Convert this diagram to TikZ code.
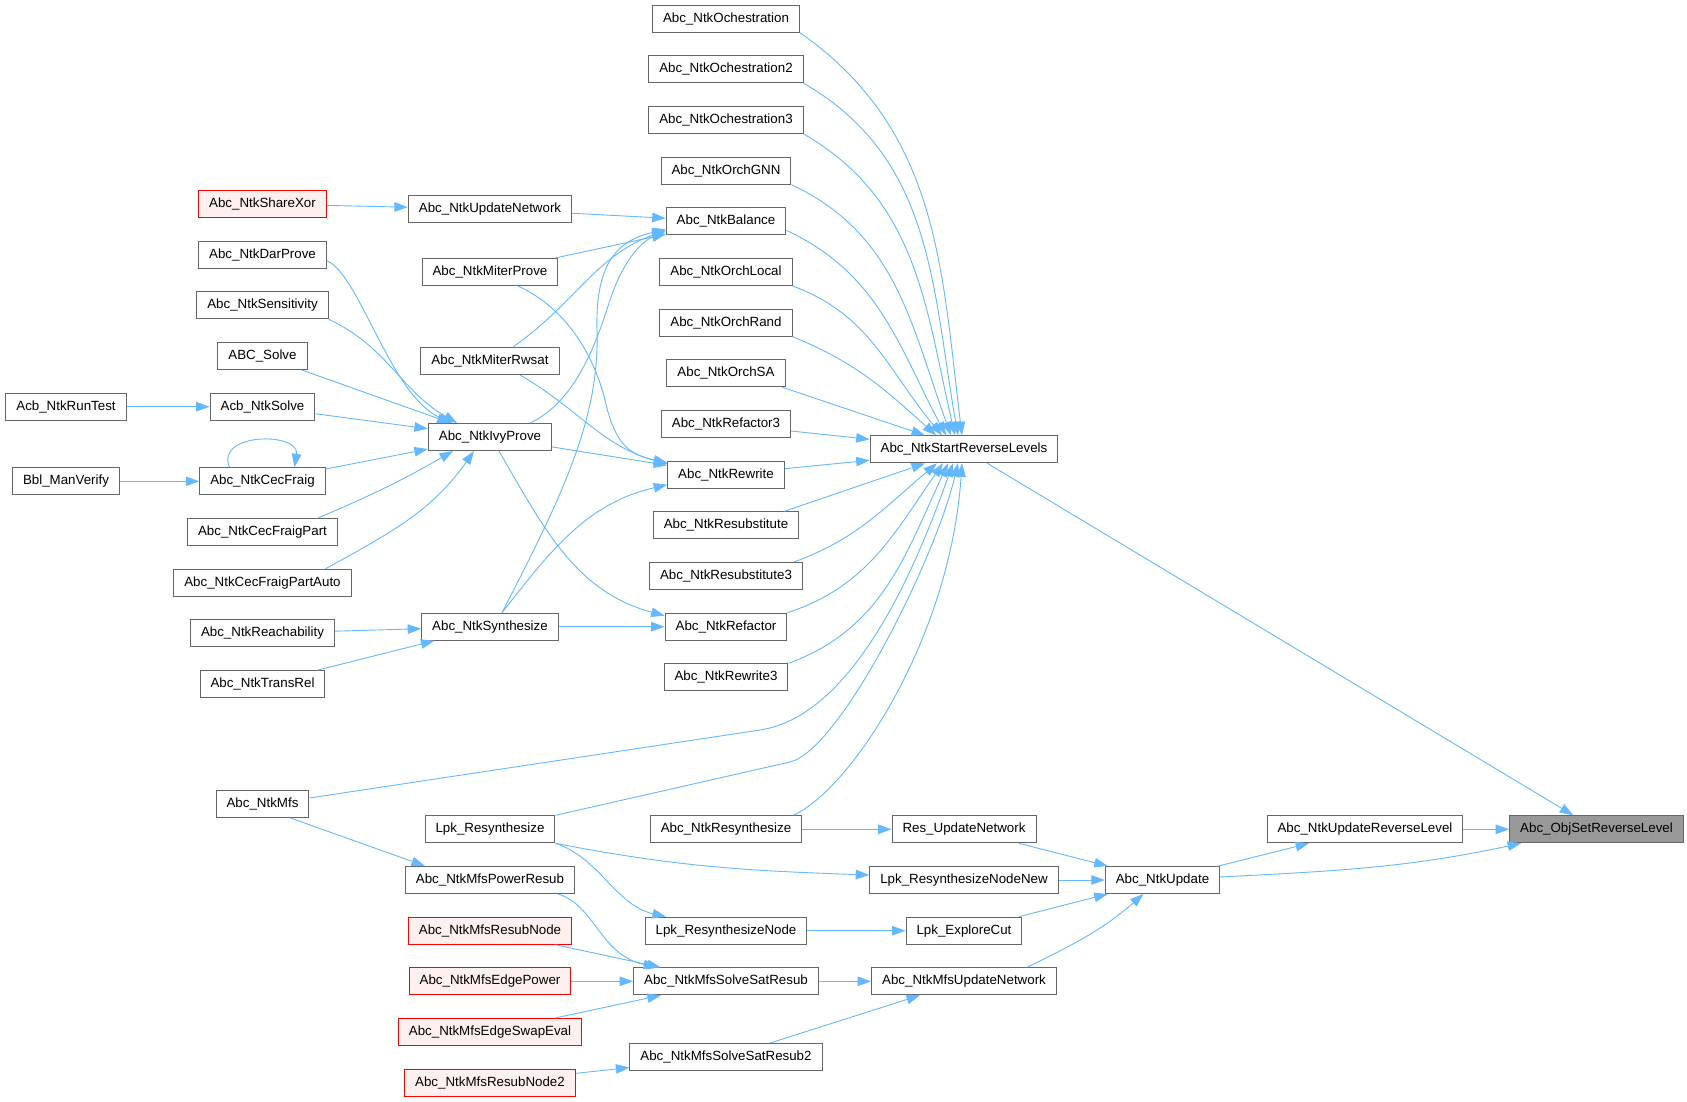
\documentclass[tikz,border=0pt]{standalone}
\usepackage{fontspec}
\setmainfont{Liberation Sans}
\usetikzlibrary{arrows.meta}
\definecolor{edgeblue}{HTML}{63B8FF}
\definecolor{nodegray}{HTML}{666666}
\definecolor{rootfill}{HTML}{999999}
\definecolor{redfill}{HTML}{FFF0F0}
\tikzset{
  fn/.style={draw=nodegray, fill=white, line width=1pt, minimum height=27pt,
    inner xsep=10.5pt, inner ysep=0pt, text height=9.8pt, text depth=2.9pt,
    font=\fontsize{13.33}{16}\selectfont},
  fnred/.style={fn, draw=red, fill=redfill},
  fnroot/.style={fn, fill=rootfill},
  call/.style={draw=edgeblue, line width=0.9pt, -{Triangle[length=13.5pt,width=9.5pt]}}
}
\begin{document}
\begin{tikzpicture}[x=1pt,y=1pt]
\path[use as bounding box, fill=white] (0,0) rectangle (1687,-1101);

\node[fn] (och) at (726,-18.7) {Abc\_NtkOchestration};
\node[fn] (och2) at (726,-69.3) {Abc\_NtkOchestration2};
\node[fn] (och3) at (726,-120) {Abc\_NtkOchestration3};
\node[fn] (orchgnn) at (726,-170.7) {Abc\_NtkOrchGNN};
\node[fn] (balance) at (726,-221.3) {Abc\_NtkBalance};
\node[fn] (orchlocal) at (726,-272) {Abc\_NtkOrchLocal};
\node[fn] (orchrand) at (726,-322.7) {Abc\_NtkOrchRand};
\node[fn] (orchsa) at (726,-373.3) {Abc\_NtkOrchSA};
\node[fn] (refactor3) at (726,-424) {Abc\_NtkRefactor3};
\node[fn] (rewrite) at (726,-474.7) {Abc\_NtkRewrite};
\node[fn] (resub) at (726,-525.3) {Abc\_NtkResubstitute};
\node[fn] (resub3) at (726,-576) {Abc\_NtkResubstitute3};
\node[fn] (refactor) at (726,-626.7) {Abc\_NtkRefactor};
\node[fn] (rewrite3) at (726,-677.3) {Abc\_NtkRewrite3};
\node[fn] (ntkresyn) at (726,-829.3) {Abc\_NtkResynthesize};
\node[fn] (lpkresnode) at (726,-930.7) {Lpk\_ResynthesizeNode};
\node[fn] (solvesat) at (726,-981.3) {Abc\_NtkMfsSolveSatResub};
\node[fn] (solvesat2) at (726,-1057) {Abc\_NtkMfsSolveSatResub2};

\node[fn] (srl) at (964,-449.3) {Abc\_NtkStartReverseLevels};
\node[fn] (resupd) at (964,-829.3) {Res\_UpdateNetwork};
\node[fn] (lpknew) at (964,-880) {Lpk\_ResynthesizeNodeNew};
\node[fn] (explorecut) at (964,-930.7) {Lpk\_ExploreCut};
\node[fn] (mfsupd) at (964,-981.3) {Abc\_NtkMfsUpdateNetwork};

\node[fn] (ntkupdate) at (1162.5,-880) {Abc\_NtkUpdate};
\node[fn] (updrev) at (1365,-829.3) {Abc\_NtkUpdateReverseLevel};
\node[fnroot] (objset) at (1596.5,-829.3) {Abc\_ObjSetReverseLevel};

\node[fn] (updnet) at (490,-209) {Abc\_NtkUpdateNetwork};
\node[fn] (miterprove) at (490,-272) {Abc\_NtkMiterProve};
\node[fn] (miterrwsat) at (490,-361) {Abc\_NtkMiterRwsat};
\node[fn] (ivyprove) at (490,-437) {Abc\_NtkIvyProve};
\node[fn] (synth) at (490,-626.7) {Abc\_NtkSynthesize};
\node[fn] (lpkres) at (490,-829.3) {Lpk\_Resynthesize};
\node[fn] (powerresub) at (490,-880) {Abc\_NtkMfsPowerResub};
\node[fnred] (resubnode) at (490,-930.7) {Abc\_NtkMfsResubNode};
\node[fnred] (edgepower) at (490,-981.3) {Abc\_NtkMfsEdgePower};
\node[fnred] (edgeswap) at (490,-1032) {Abc\_NtkMfsEdgeSwapEval};
\node[fnred] (resubnode2) at (490,-1082.7) {Abc\_NtkMfsResubNode2};

\node[fnred] (sharexor) at (262.5,-204) {Abc\_NtkShareXor};
\node[fn] (darprove) at (262.5,-254.7) {Abc\_NtkDarProve};
\node[fn] (sensitivity) at (262.5,-305.3) {Abc\_NtkSensitivity};
\node[fn] (abcsolve) at (262.5,-356) {ABC\_Solve};
\node[fn] (acbsolve) at (262.5,-406.7) {Acb\_NtkSolve};
\node[fn] (cecfraig) at (262.5,-481.3) {Abc\_NtkCecFraig};
\node[fn] (cecfraigpart) at (262.5,-532) {Abc\_NtkCecFraigPart};
\node[fn] (cecfraigauto) at (262.5,-582.7) {Abc\_NtkCecFraigPartAuto};
\node[fn] (reach) at (262.5,-633.3) {Abc\_NtkReachability};
\node[fn] (transrel) at (262.5,-684) {Abc\_NtkTransRel};
\node[fn] (ntkmfs) at (262.5,-804) {Abc\_NtkMfs};

\node[fn] (runtest) at (66,-406.7) {Acb\_NtkRunTest};
\node[fn] (manverify) at (66,-481.3) {Bbl\_ManVerify};

\draw[call] (och.south east) to[out=-35,in=97] ([xshift=-2pt]srl.north);
\draw[call] (och2.south east) to[out=-30,in=100] ([xshift=-6pt]srl.north);
\draw[call] (och3.south east) to[out=-30,in=103] ([xshift=-9pt]srl.north);
\draw[call] (orchgnn.south east) to[out=-25,in=110] ([xshift=-13pt]srl.north);
\draw[call] ([yshift=-9pt]balance.east) to[out=-25,in=118] ([xshift=-18pt]srl.north);
\draw[call] (orchlocal.south east) to[out=-20,in=130] ([xshift=-22pt]srl.north);
\draw[call] (orchrand.south east) to[out=-22,in=138] ([xshift=-28pt]srl.north);
\draw[call] ([xshift=-3pt]orchsa.south east) -- ([xshift=-39pt]srl.north);
\draw[call] ([yshift=-7pt]refactor3.east) -- ([yshift=10pt]srl.west);
\draw[call] ([yshift=6pt]rewrite.east) -- ([yshift=-11pt]srl.west);
\draw[call] ([xshift=-15pt]resub.north east) -- ([xshift=-39pt]srl.south);
\draw[call] ([xshift=-9pt]resub3.north east) to[out=20,in=-140] ([xshift=-27pt]srl.south);
\draw[call] (refactor.north east) to[out=18,in=-125] ([xshift=-21pt]srl.south);
\draw[call] (rewrite3.north east) to[out=20,in=-115] ([xshift=-16pt]srl.south);
\draw[call] ([yshift=6pt]ntkmfs.east) -- (760,-730) .. controls (860,-715) and (923,-547) .. ([xshift=-11pt]srl.south);
\draw[call] (lpkres.north east) -- (790,-762) .. controls (840,-750) and (935,-560) .. ([xshift=-6pt]srl.south);
\draw[call] ([xshift=-9pt]ntkresyn.north east) .. controls (850,-790) and (950,-640) .. ([xshift=-2pt]srl.south);

\draw[call] (updnet) -- (balance);
\draw[call] (miterprove) -- (balance);
\draw[call] ([xshift=23pt]miterrwsat.north) to[out=35,in=-160] ([yshift=-9pt]balance.west);
\draw[call] ([xshift=40pt]ivyprove.north) .. controls (580,-400) and (600,-330) .. (610,-300) .. controls (625,-255) and (645,-240) .. ([yshift=-10pt]balance.west);
\draw[call] ([xshift=12pt]synth.north) .. controls (560,-500) and (600,-420) .. (597,-330) .. controls (595,-260) and (620,-240) .. ([yshift=-8pt]balance.west);

\draw[call] ([xshift=28pt]miterprove.south) .. controls (570,-310) and (595,-360) .. (605,-400) .. controls (615,-445) and (630,-455) .. ([yshift=-2pt]rewrite.north west);
\draw[call] ([xshift=30pt]miterrwsat.south) to[out=-30,in=165] ([yshift=-3pt]rewrite.north west);
\draw[call] (ivyprove) -- (rewrite);
\draw[call] ([xshift=12pt]synth.north) to[out=52,in=-167] ([yshift=-10pt]rewrite.west);
\draw[call] ([xshift=9pt]ivyprove.south) to[out=-60,in=165] ([yshift=11pt]refactor.west);
\draw[call] (synth) -- (refactor);

\draw[call] ([yshift=-6pt]darprove.east) .. controls (360,-275) and (390,-395) .. ([xshift=-38pt]ivyprove.north);
\draw[call] (sensitivity.south east) to[out=-25,in=150] ([xshift=-33pt]ivyprove.north);
\draw[call] (abcsolve) -- (ivyprove);
\draw[call] (acbsolve) -- (ivyprove);
\draw[call] (cecfraig) -- (ivyprove);
\draw[call] ([xshift=-20pt]cecfraigpart.north east) to[out=23,in=-150] ([xshift=-37pt]ivyprove.south);
\draw[call] ([xshift=-26pt]cecfraigauto.north east) to[out=29,in=-125] ([xshift=-16pt]ivyprove.south);
\draw[call] (runtest) -- (acbsolve);
\draw[call] (manverify) -- (cecfraig);
\draw[call] ([xshift=-33pt]cecfraig.north) .. controls (215,-432) and (300,-432) .. ([xshift=32pt]cecfraig.north);
\draw[call] (sharexor) -- (updnet);
\draw[call] (reach) -- (synth);
\draw[call] (transrel) -- (synth);

\draw[call] ([xshift=28pt]ntkmfs.south) -- ([xshift=-65pt]powerresub.north);
\draw[call] (lpkres.south east) to[out=-11,in=178] ([yshift=5pt]lpknew.west);
\draw[call] (lpkres.south east) .. controls (600,-858) and (615,-905) .. ([xshift=-60pt]lpkresnode.north);
\draw[call] (ntkresyn) -- (resupd);
\draw[call] (resupd) -- (ntkupdate);
\draw[call] (lpknew) -- (ntkupdate);
\draw[call] (explorecut) -- (ntkupdate);
\draw[call] ([xshift=63pt]mfsupd.north) to[out=26,in=-139] ([xshift=-19pt]ntkupdate.south);
\draw[call] (ntkupdate) -- (updrev);
\draw[call] ([yshift=3pt]ntkupdate.east) to[out=3,in=-168] ([xshift=12pt]objset.south west);
\draw[call] (updrev) -- (objset);
\draw[call] (srl) -- (objset);
\draw[call] ([xshift=68pt]powerresub.south) .. controls (595,-905) and (600,-955) .. ([xshift=-69pt]solvesat.north);
\draw[call] (resubnode) -- (solvesat);
\draw[call] (edgepower) -- (solvesat);
\draw[call] (edgeswap) -- (solvesat);
\draw[call] (resubnode2) -- (solvesat2);
\draw[call] (solvesat) -- (mfsupd);
\draw[call] (solvesat2) -- (mfsupd);
\draw[call] (lpkresnode) -- (explorecut);
\end{tikzpicture}
\end{document}
